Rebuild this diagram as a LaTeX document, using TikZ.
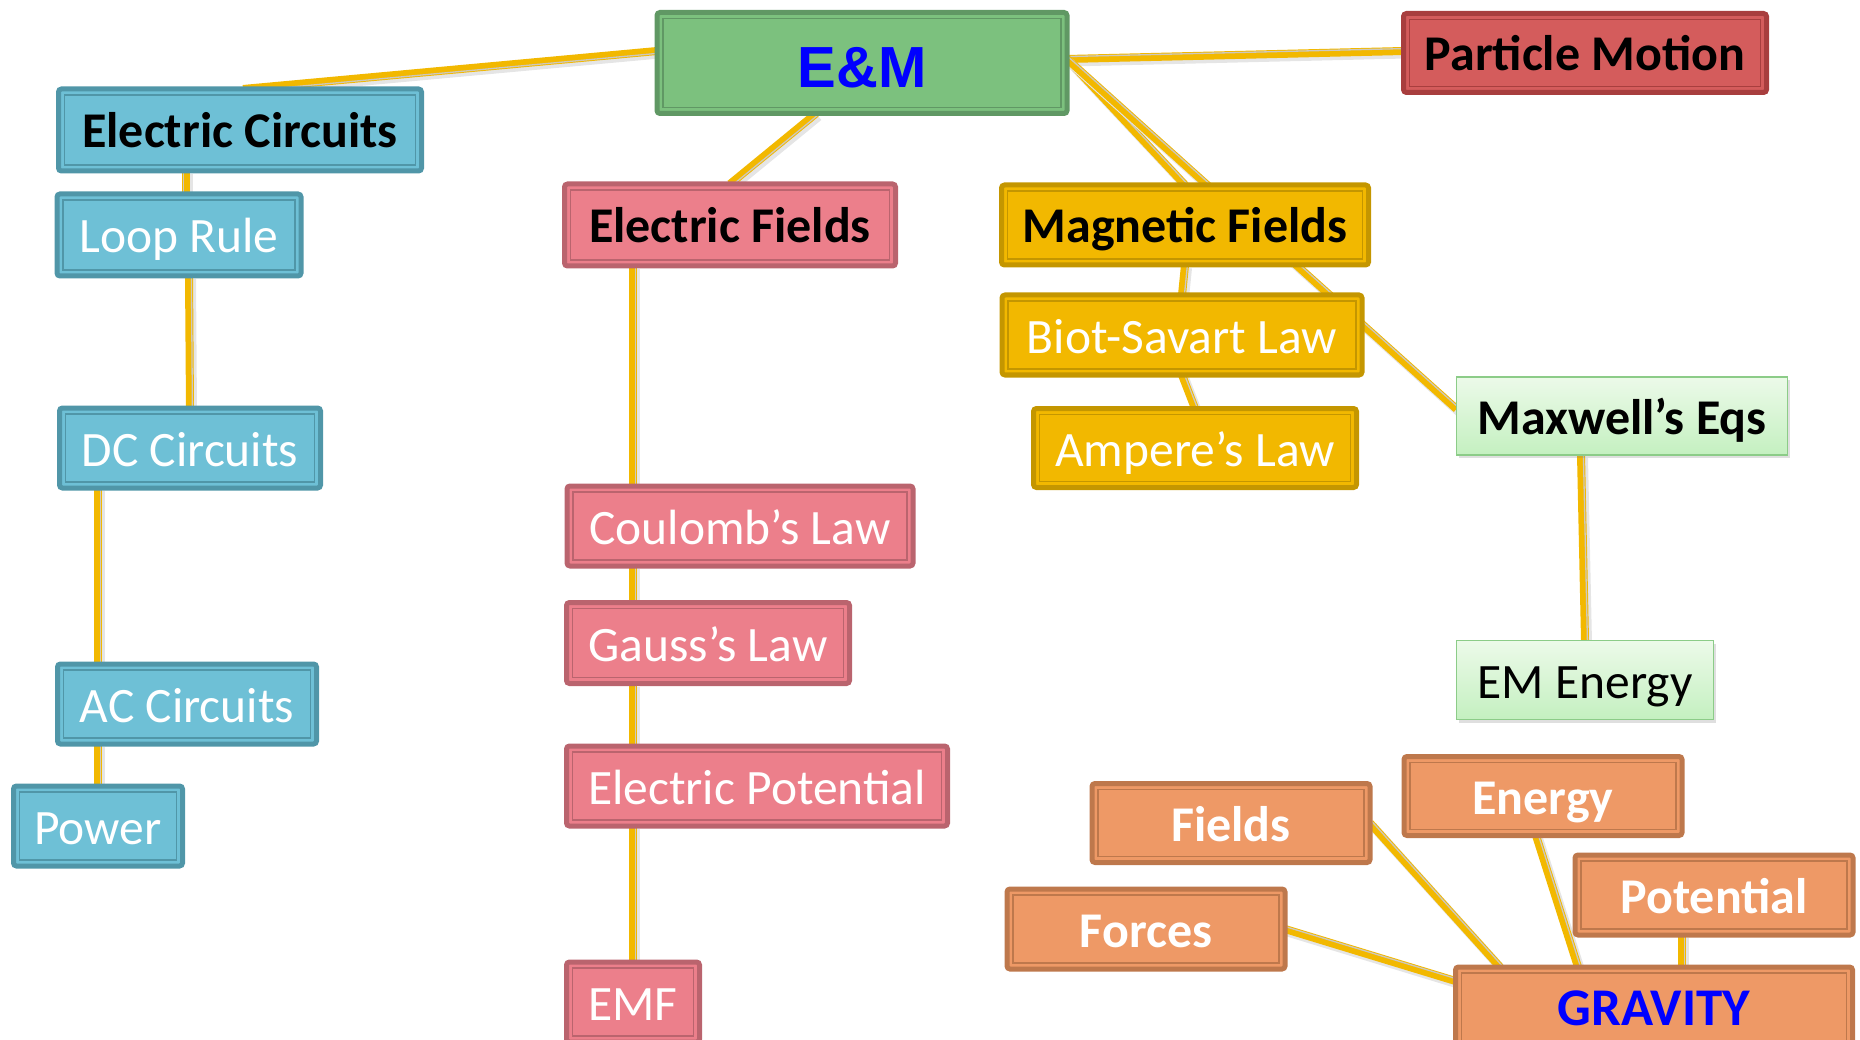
\documentclass[tikz,border=0pt]{standalone}
\usepackage{fontspec}
\setmainfont{Carlito}
\newfontfamily\arialfont{Liberation Sans}
\usetikzlibrary{backgrounds,shadows,calc}
\definecolor{conn}{RGB}{242,184,0}
\definecolor{connL}{RGB}{205,200,190}
\definecolor{emF}{RGB}{124,193,126}\definecolor{emB}{RGB}{96,152,100}
\definecolor{pmF}{RGB}{212,92,92}\definecolor{pmB}{RGB}{168,62,62}
\definecolor{blF}{RGB}{110,192,214}\definecolor{blB}{RGB}{80,150,168}
\definecolor{pkF}{RGB}{236,127,139}\definecolor{pkB}{RGB}{186,100,110}
\definecolor{ylF}{RGB}{242,184,0}\definecolor{ylB}{RGB}{196,150,0}
\definecolor{mxT}{RGB}{236,250,233}\definecolor{mxM}{RGB}{196,240,192}\definecolor{mxB}{RGB}{140,204,136}
\definecolor{orF}{RGB}{238,153,102}\definecolor{orB}{RGB}{190,120,76}
\definecolor{gblue}{RGB}{0,0,255}
\tikzset{
  box/.style 2 args={draw=#2, fill=#1, line width=5pt, rounded corners=3pt, inner sep=0pt, outer sep=0pt, align=center,
    text height=36pt, text depth=0pt},
  inner/.style={line width=1.4pt, draw=#1},
  bfont/.style={font=\fontsize{50}{58}\selectfont\bfseries},
  rfont/.style={font=\fontsize{49.5}{58}\selectfont},
  linkbase/.style={draw=conn, line width=8pt,
    preaction={draw=black!10, line width=9pt, transform canvas={xshift=2.5pt,yshift=-3pt}}},
  linkhi/.style={draw=connL, line width=1.3pt},
  mxbox/.style={draw=mxB, line width=1.2pt, top color=mxT, bottom color=mxM, inner sep=0pt, outer sep=0pt,
    text height=36pt, text depth=0pt,
    drop shadow={opacity=0.25, shadow xshift=2pt, shadow yshift=-3pt}},
}
\newcommand\conlink[2]{%
  \draw[linkbase] #1 -- #2;
  \draw[linkhi] ($#1!2.4pt!90:#2$) -- ($#2!2.4pt!-90:#1$);}
\begin{document}
\begin{tikzpicture}[x=1pt,y=-1pt]
\useasboundingbox (0,0) rectangle (1860,1040);
% top
\node[box={emF}{emB}, minimum width=410, minimum height=101, text=gblue, text height=50pt, font=\arialfont\fontsize{58}{64}\selectfont\bfseries] (em) at (862,63) {E\&M};
\node[box={pmF}{pmB}, bfont, minimum width=363, minimum height=79] (pm) at (1585,53) {Particle Motion};
% electric circuits
\node[box={blF}{blB}, bfont, minimum width=363, minimum height=82] (ec) at (240,130) {Electric Circuits};
\node[box={blF}{blB}, rfont, text=white, minimum width=244, minimum height=82] (lr) at (179,235) {Loop Rule};
\node[box={blF}{blB}, rfont, text=white, minimum width=261, minimum height=80] (dc) at (190,448) {DC Circuits};
\node[box={blF}{blB}, rfont, text=white, minimum width=259, minimum height=80] (ac) at (187,704) {AC Circuits};
\node[box={blF}{blB}, rfont, text=white, minimum width=169, minimum height=80] (pw) at (98,826) {Power};
% electric fields
\node[box={pkF}{pkB}, bfont, minimum width=331, minimum height=82] (ef) at (730,225) {Electric Fields};
\node[box={pkF}{pkB}, rfont, text=white, minimum width=346, minimum height=80] (cl) at (740,526) {Coulomb’s Law};
\node[box={pkF}{pkB}, rfont, text=white, minimum width=283, minimum height=81] (gl) at (708,643) {Gauss’s Law};
\node[box={pkF}{pkB}, rfont, text=white, minimum width=381, minimum height=80] (ep) at (757,786) {Electric Potential};
\node[box={pkF}{pkB}, rfont, text=white, minimum width=133, minimum height=80] (emf) at (633,1002) {EMF};
% magnetic fields
\node[box={ylF}{ylB}, bfont, minimum width=367, minimum height=80] (mf) at (1185,225) {Magnetic Fields};
\node[box={ylF}{ylB}, rfont, text=white, minimum width=360, minimum height=80] (bs) at (1182,335) {Biot-Savart Law};
\node[box={ylF}{ylB}, rfont, text=white, minimum width=323, minimum height=79] (al) at (1195,448) {Ampere’s Law};
% maxwell
\node[mxbox, bfont, minimum width=331, minimum height=78] (mx) at (1622,416) {Maxwell’s Eqs};
\node[mxbox, rfont, minimum width=257, minimum height=79] (eme) at (1585,680) {EM Energy};
% gravity
\node[box={orF}{orB}, bfont, text=white, minimum width=278, minimum height=79] (fi) at (1231,823) {Fields};
\node[box={orF}{orB}, bfont, text=white, minimum width=278, minimum height=79] (en) at (1543,796) {Energy};
\node[box={orF}{orB}, bfont, text=white, minimum width=278, minimum height=80] (po) at (1714,895) {Potential};
\node[box={orF}{orB}, bfont, text=white, minimum width=278, minimum height=80] (fo) at (1146,929) {Forces};
\node[box={orF}{orB}, font=\fontsize{53}{60}\selectfont\bfseries, text=gblue, minimum width=397, minimum height=80] (gr) at (1654,1007) {GRAVITY};
% inner frames
\foreach \n/\c in {em/emB, pm/pmB, ec/blB, lr/blB, dc/blB, ac/blB, pw/blB, ef/pkB, cl/pkB, gl/pkB, ep/pkB, emf/pkB, mf/ylB, bs/ylB, al/ylB, fi/orB, en/orB, po/orB, fo/orB, gr/orB}
  \draw[inner=\c] ([shift={(6pt,6pt)}]\n.south west) rectangle ([shift={(-6pt,-6pt)}]\n.north east);
% connectors
\begin{scope}[on background layer]
\conlink{([yshift=12pt]em.west)}{([xshift=3pt]ec.north)}
\conlink{([xshift=-46pt]em.south)}{(ef.north)}
\conlink{([yshift=4pt]em.east)}{([yshift=2pt]pm.west)}
\conlink{([yshift=4pt]em.east)}{(mf.north)}
\conlink{([yshift=4pt]em.east)}{([yshift=7pt]mx.west)}
\conlink{([xshift=7pt]lr.north)}{([xshift=7pt]lr.north |- ec.south)}
\conlink{([xshift=10pt]lr.south)}{(dc.north)}
\conlink{(pw.north |- dc.south)}{(pw.north |- ac.north)}
\conlink{(pw.north |- ac.south)}{(pw.north)}
\conlink{(emf.north |- ef.south)}{(emf.north |- cl.north)}
\conlink{(emf.north |- cl.south)}{(emf.north |- gl.north)}
\conlink{(emf.north |- gl.south)}{(emf.north |- ep.north)}
\conlink{(emf.north |- ep.south)}{(emf.north)}
\conlink{(mf.south)}{(bs.north)}
\conlink{(bs.south)}{(al.north)}
\conlink{([xshift=-41pt]mx.south)}{(eme.north)}
\conlink{(fi.east)}{([xshift=-154pt]gr.north)}
\conlink{([xshift=-7pt]en.south)}{([xshift=-76pt]gr.north)}
\conlink{([xshift=-32pt]po.south)}{([xshift=-32pt]po.south |- gr.north)}
\conlink{(fo.east)}{([yshift=26pt]gr.west)}
\end{scope}
\end{tikzpicture}
\end{document}
